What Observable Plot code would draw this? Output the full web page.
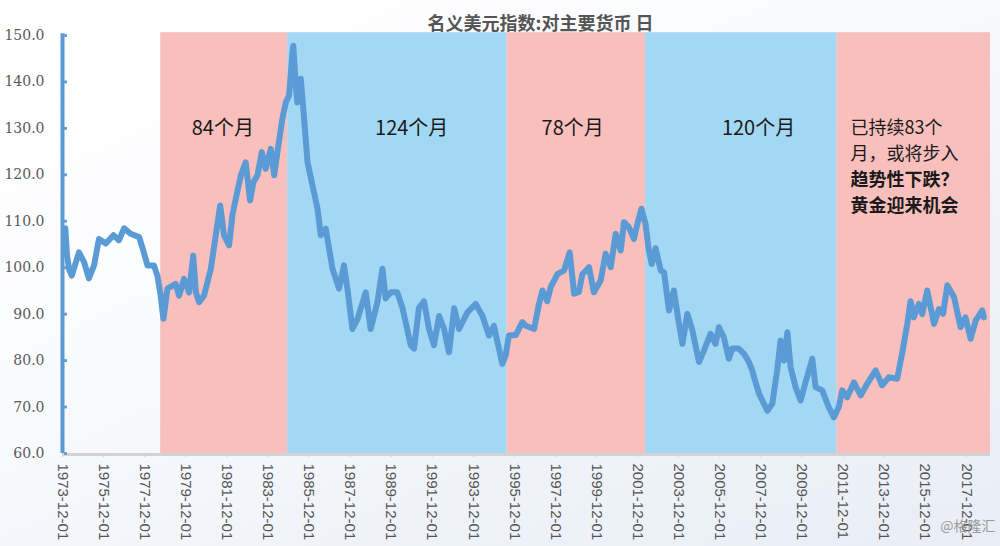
<!DOCTYPE html>
<html><head><meta charset="utf-8">
<script src="https://cdn.jsdelivr.net/npm/d3@7"></script>
<script src="https://cdn.jsdelivr.net/npm/@observablehq/plot@0.6"></script>
<style>
html,body{margin:0;padding:0;}
body{width:1000px;height:546px;overflow:hidden;background:linear-gradient(155deg,#ffffff 0%,#fbfcfe 35%,#eff3f9 70%,#e9eef6 100%);}
</style></head><body><div id="chart"></div>
<script>
const title = "名义美元指数:对主要货币 日";
const dates = ["1974-01-20","1974-02-20","1974-04-01","1974-05-15","1974-09-20","1974-12-20","1975-03-15","1975-06-15","1975-09-10","1976-01-10","1976-05-25","1976-08-30","1976-12-01","1977-03-25","1977-08-25","1977-10-25","1978-01-20","1978-05-15","1978-07-15","1978-09-12","1978-10-30","1979-01-10","1979-06-05","1979-08-05","1979-11-01","1980-01-30","1980-04-12","1980-05-30","1980-07-25","1980-10-22","1981-02-20","1981-05-18","1981-08-05","1981-10-12","1982-01-10","1982-03-10","1982-05-08","1982-08-08","1982-11-01","1983-01-18","1983-03-18","1983-05-30","1983-08-15","1983-10-22","1984-01-22","1984-03-22","1984-05-18","1984-08-15","1984-10-15","1984-12-12","1985-02-10","1985-02-25","1985-04-05","1985-05-08","1985-07-08","1985-09-05","1985-11-05","1986-02-02","1986-05-01","1986-06-28","1986-09-25","1986-11-22","1987-01-22","1987-05-18","1987-08-15","1987-10-15","1988-01-12","1988-04-12","1988-09-05","1988-12-01","1989-04-01","1989-06-28","1989-08-25","1989-11-25","1990-03-20","1990-06-20","1990-11-15","1991-01-12","1991-04-08","1991-07-08","1991-10-05","1992-01-01","1992-04-01","1992-06-28","1992-09-25","1992-12-25","1993-03-22","1993-08-18","1994-01-12","1994-05-12","1994-09-05","1994-12-01","1995-03-01","1995-04-30","1995-06-28","1995-08-25","1995-12-25","1996-04-20","1996-06-20","1996-11-15","1997-02-10","1997-04-12","1997-07-08","1997-09-05","1998-01-05","1998-05-01","1998-08-10","1998-10-28","1999-01-22","1999-03-22","1999-07-20","1999-10-15","2000-02-12","2000-05-10","2000-08-08","2000-11-05","2001-02-02","2001-04-01","2001-06-28","2001-09-25","2001-11-25","2002-02-05","2002-04-20","2002-06-18","2002-08-08","2002-10-15","2003-01-15","2003-03-15","2003-06-10","2003-09-05","2003-12-05","2004-02-05","2004-05-01","2004-07-30","2004-11-25","2005-02-22","2005-06-20","2005-09-15","2005-11-15","2006-02-10","2006-05-10","2006-07-10","2006-11-01","2007-02-01","2007-05-01","2007-06-30","2007-08-01","2007-10-28","2008-03-25","2008-06-20","2008-09-15","2008-11-15","2009-01-15","2009-03-15","2009-05-12","2009-08-08","2009-11-05","2010-02-01","2010-06-01","2010-07-30","2010-11-25","2011-03-20","2011-06-20","2011-09-15","2011-11-15","2012-02-12","2012-06-10","2012-10-08","2013-02-01","2013-07-01","2013-10-25","2014-02-20","2014-07-20","2014-10-15","2015-01-15","2015-03-15","2015-05-10","2015-08-10","2015-10-08","2016-01-05","2016-05-05","2016-08-01","2016-10-12","2016-12-28","2017-04-25","2017-08-20","2017-11-15","2018-02-15","2018-05-15","2018-09-10","2018-10-08"];
const values = [108.5,102.5,99.5,98.3,103.3,101.2,97.7,100.5,106.2,105.2,107.0,105.9,108.5,107.3,106.6,104.2,100.5,100.5,98.3,94.0,89.0,95.5,96.5,94.0,97.6,94.7,102.6,94.7,92.6,94.0,99.8,107.0,113.4,107.0,104.8,111.3,114.8,119.9,122.7,114.5,118.4,119.9,124.9,121.3,125.6,119.9,124.9,132.1,135.6,137.1,146.4,147.8,140.0,135.6,140.7,132.0,122.7,117.7,112.7,107.0,108.4,104.2,99.8,95.5,100.5,95.5,86.8,89.0,94.7,86.8,92.6,99.8,93.4,94.7,94.7,91.3,83.3,82.6,91.3,92.8,86.8,83.3,89.6,86.8,81.8,91.3,86.8,90.4,92.2,89.6,85.4,87.5,82.6,79.3,81.1,85.4,85.5,88.3,87.5,86.8,92.2,95.1,92.8,95.8,98.6,99.4,103.3,94.4,94.8,98.6,100.1,94.7,97.3,103.0,100.1,107.3,103.7,109.8,108.7,106.2,109.4,112.7,109.4,103.7,100.8,104.2,99.4,99.0,90.8,95.1,87.9,83.6,90.1,86.5,79.7,82.2,85.8,83.6,87.2,85.0,80.4,82.6,82.6,81.5,79.7,77.9,76.4,72.9,69.2,70.7,77.9,84.3,80.0,86.1,78.6,74.3,71.4,75.3,80.4,74.3,73.6,70.0,67.8,70.0,73.6,72.1,75.3,72.5,75.0,77.9,74.7,76.4,76.1,81.5,87.9,92.8,89.3,92.2,90.0,95.1,87.9,91.1,90.1,96.2,93.7,87.2,89.3,84.7,88.6,90.8,89.3];

const bandStart = ["1978-09-12","1984-11-16","1995-07-26","2002-04-20","2011-08-17"];
const bandEnd   = ["1984-11-16","1995-07-26","2002-04-20","2011-08-17","2019-02-03"];
const bandTrend = ["up","down","up","down","up"];

const periodLabels = ["84个月","124个月","78个月","120个月"];
const periodLabelDates = ["1981-09-20","1990-12-01","1998-10-01","2007-10-20"];
const periodLabelY = [130,130,130,130];

const noteBlocks = ["已持续83个\n月，或将步入","趋势性下跌？\n黄金迎来机会"];
const noteBold = [false,true];
const noteDate = "2012-04-10";
const noteMidY = [127.8,116.6];

const yTicks = [60,70,80,90,100,110,120,130,140,150];
const xTickLabels = ["1973-12-01","1975-12-01","1977-12-01","1979-12-01","1981-12-01","1983-12-01","1985-12-01","1987-12-01","1989-12-01","1991-12-01","1993-12-01","1995-12-01","1997-12-01","1999-12-01","2001-12-01","2003-12-01","2005-12-01","2007-12-01","2009-12-01","2011-12-01","2013-12-01","2015-12-01","2017-12-01"];
const xDomain = ["1973-12-01","2019-02-03"];
const yDomain = [60,150];
const watermark = "@格隆汇";

const parse = d3.utcParse("%Y-%m-%d");
const series = dates.map((d,i)=>({date:parse(d), value:values[i]}));
const bands = bandStart.map((s,i)=>({start:parse(s), end:parse(bandEnd[i]), trend:bandTrend[i]}));
const labels = periodLabels.map((t,i)=>({date:parse(periodLabelDates[i]), y:periodLabelY[i], text:t}));
const notes = noteBlocks.map((t,i)=>({date:parse(noteDate), y:noteMidY[i], text:t, bold:noteBold[i]}));
const xTicks = xTickLabels.map(parse);
const x0 = parse(xDomain[0]);

const blue = "#5b9bd5";
const cjk = "'Noto Sans CJK SC', sans-serif";

const chart = Plot.plot({
  width:1000, height:546,
  marginTop:35, marginBottom:93, marginLeft:62, marginRight:10,
  style:{background:"transparent", fontFamily:"'Liberation Sans', sans-serif"},
  x:{type:"utc", domain:xDomain.map(parse)},
  y:{domain:yDomain},
  marks:[
    Plot.rect(bands, {x1:"start", x2:"end", y1:()=>yDomain[0], y2:()=>yDomain[1]+0.6,
      fill:d=>d.trend==="up" ? "#f8bfbc" : "#a3d8f5"}),
    Plot.ruleY([yDomain[0]], {stroke:"#d3d3d3", strokeWidth:3, dy:1}),
    Plot.axisX(xTicks, {tickFormat:d3.utcFormat("%Y-%m-%d"), tickRotate:90, tickSize:4, tickPadding:6,
      stroke:"#d0d0d0", fill:"#555555", fontSize:15, label:null}),
    Plot.axisY(yTicks, {tickFormat:d=>d.toFixed(1), tickSize:0, tickPadding:18, fontSize:14,
      fontFamily:"'DejaVu Serif', serif", fill:"#595959", label:null}),
    Plot.line(series, {x:"date", y:"value", stroke:blue, strokeWidth:6, strokeLinejoin:"round", strokeLinecap:"round"}),
    Plot.ruleX([x0], {y1:()=>yDomain[0], y2:()=>yDomain[1]+0.4, stroke:blue, strokeWidth:4}),
    Plot.dot(yTicks, {x:()=>x0, y:d=>d, symbol:"square", r:1.6, fill:blue, dx:3}),
    Plot.text(labels, {x:"date", y:"y", text:"text", fontSize:20, fill:"#1a1a1a", fontFamily:cjk}),
    Plot.text(notes.filter(d=>!d.bold), {x:"date", y:"y", text:"text", textAnchor:"start", lineAnchor:"middle", lineHeight:1.45, fontSize:18, fill:"#1a1a1a", fontFamily:cjk}),
    Plot.text(notes.filter(d=>d.bold), {x:"date", y:"y", text:"text", textAnchor:"start", lineAnchor:"middle", lineHeight:1.45, fontSize:18, fontWeight:"bold", fill:"#1a1a1a", fontFamily:cjk}),
    Plot.text([title], {frameAnchor:"top", dy:-18, dx:14, fontSize:18, fontWeight:"bold", fill:"#555555", fontFamily:cjk}),
    Plot.text([watermark], {frameAnchor:"bottom-right", dy:77, dx:5, textAnchor:"end", fontSize:14, fill:"#9a9a9a", fontFamily:cjk})
  ]
});
document.getElementById("chart").appendChild(chart);
</script></body></html>
